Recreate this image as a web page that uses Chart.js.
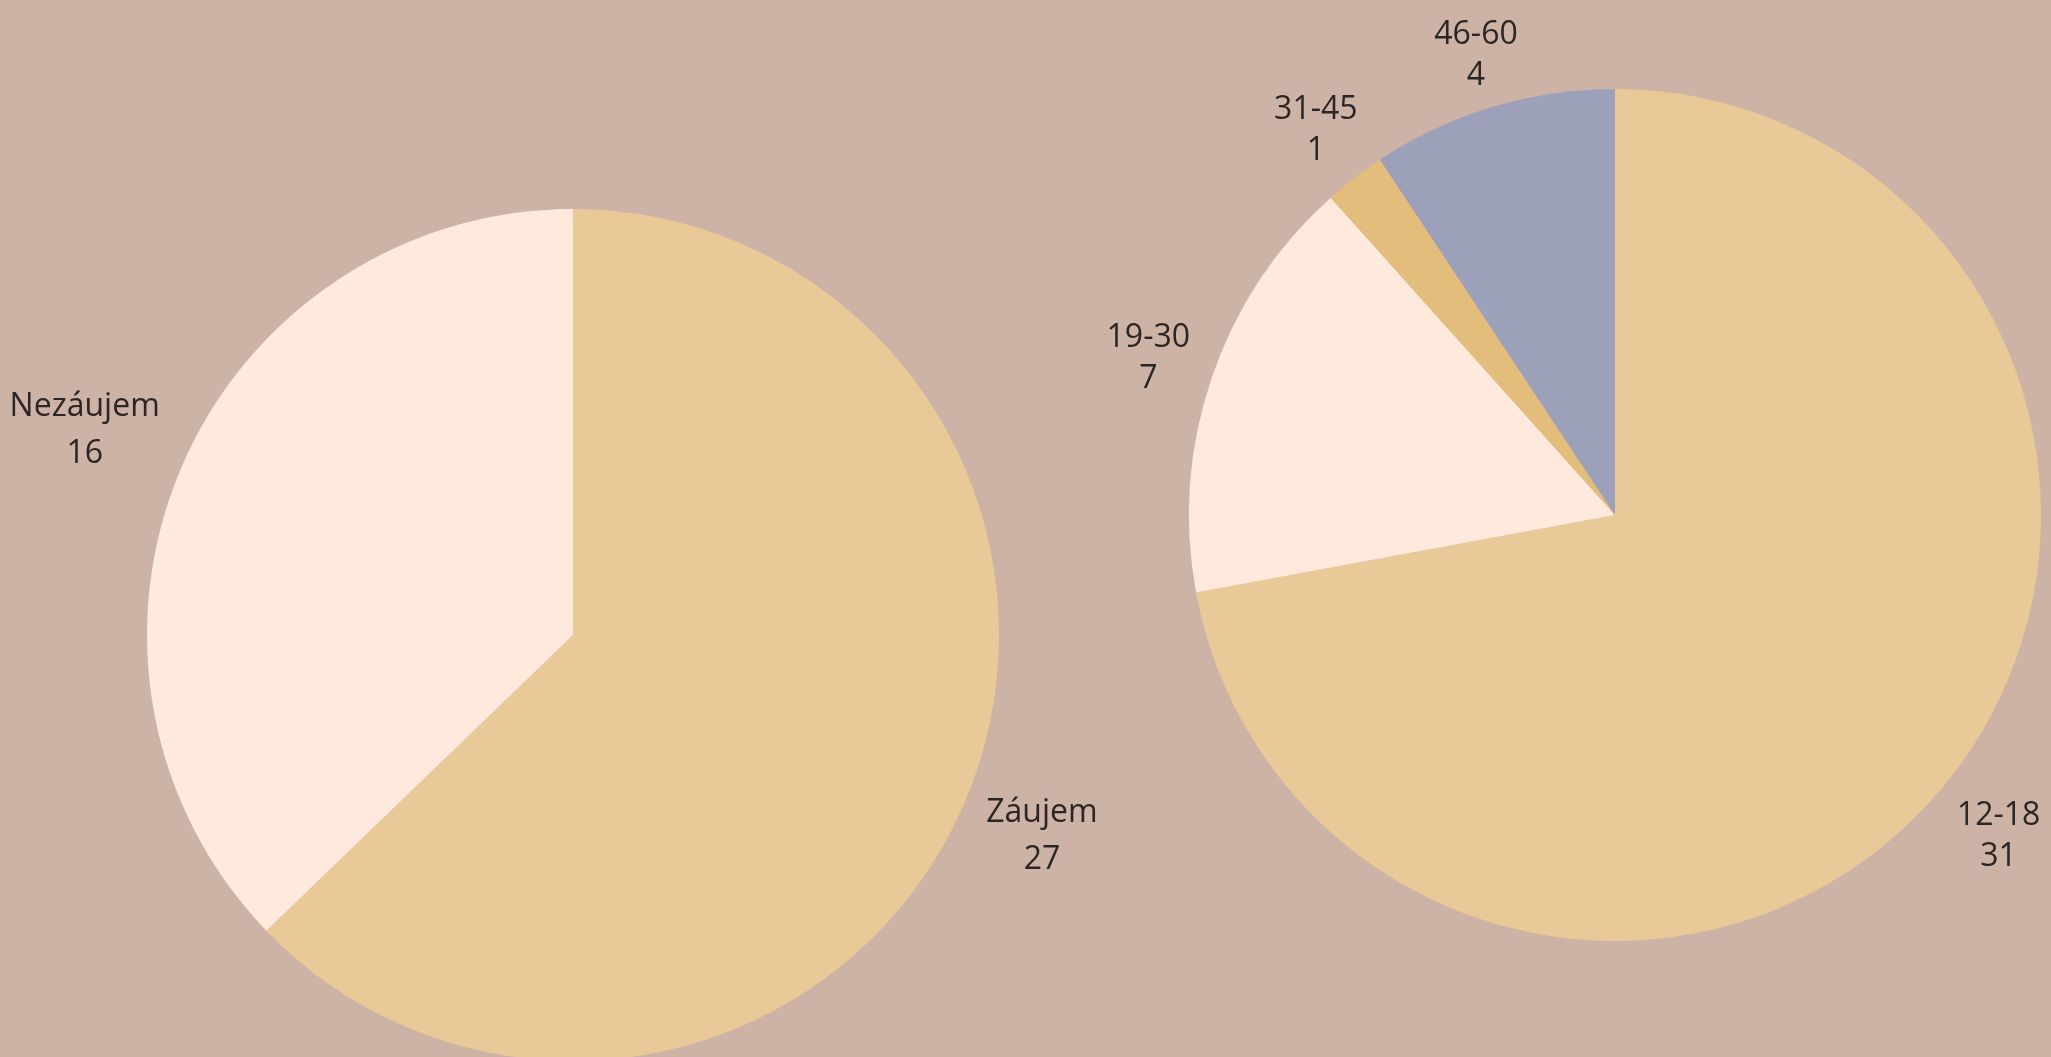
<!DOCTYPE html>
<html>
<head>
<meta charset="utf-8">
<script src="https://cdn.jsdelivr.net/npm/chart.js@4"></script>
<style>
    html, body { margin: 0; padding: 0; width: 2051px; height: 1057px; overflow: hidden; background: #CDB2A6; }
    .pie-box { position: absolute; }
    #interestBox { left: 0; top: 0; width: 1150px; height: 1100px; }
    #ageBox { left: 1050px; top: 0; width: 1001px; height: 1057px; }
</style>
</head>
<body>
<div id="interestBox" class="pie-box"><canvas id="interestChart"></canvas></div>
<div id="ageBox" class="pie-box"><canvas id="ageChart"></canvas></div>
<script>
// ===================================
// Data
// ===================================
const interestLabels = ['Záujem', 'Nezáujem'];
const interestValues = [27, 16];
const interestColors = ['#E9C997', '#FFE8DC'];

const ageLabels = ['12-18', '19-30', '31-45', '46-60'];
const ageValues = [31, 7, 1, 4];
const ageColors = ['#E9C997', '#FFE8DC', '#E2BD7C', '#9CA0B8'];

// Labels outside each slice: name on top, value below, pushed out along the mid angle
const outsideLabels = {
    id: 'outsideLabels',
    afterDatasetsDraw(chart, args, opts) {
        const ctx = chart.ctx;
        const meta = chart.getDatasetMeta(0);
        const values = chart.data.datasets[0].data;
        const lh = opts.lineHeight;
        const cap = opts.fontSize * 0.72;

        ctx.save();
        ctx.font = opts.fontSize + 'px "Open Sans"';
        ctx.fillStyle = opts.color;
        ctx.textAlign = 'center';
        ctx.textBaseline = 'alphabetic';

        meta.data.forEach((arc, i) => {
            const p = arc.getProps(['x', 'y', 'startAngle', 'endAngle', 'outerRadius'], true);
            const mid = (p.startAngle + p.endAngle) / 2;
            const vx = Math.cos(mid);
            const vy = Math.sin(mid);
            const lines = [chart.data.labels[i], String(values[i])];
            const hw = Math.max(...lines.map(t => ctx.measureText(t).width)) / 2;
            const hh = (lh + cap) / 2;
            const tx = Math.abs(vx) > 1e-6 ? hw / Math.abs(vx) : Infinity;
            const ty = Math.abs(vy) > 1e-6 ? hh / Math.abs(vy) : Infinity;
            const d = p.outerRadius + opts.gap + Math.min(tx, ty);
            const cx = p.x + vx * d;
            const top = p.y + vy * d - hh;
            ctx.fillText(lines[0], cx, top + cap);
            ctx.fillText(lines[1], cx, top + cap + lh);
        });
        ctx.restore();
    }
};

function makePie(canvasId, labels, values, colors, padding, lineHeight) {
    return new Chart(document.getElementById(canvasId), {
        type: 'pie',
        data: {
            labels: labels,
            datasets: [{
                data: values,
                backgroundColor: colors,
                borderWidth: 0
            }]
        },
        options: {
            responsive: true,
            maintainAspectRatio: false,
            animation: false,
            layout: { padding: padding },
            plugins: {
                legend: { display: false },
                tooltip: { enabled: false },
                outsideLabels: { fontSize: 32, lineHeight: lineHeight, gap: 23, color: '#2B2624' }
            }
        },
        plugins: [outsideLabels]
    });
}

makePie('interestChart', interestLabels, interestValues, interestColors,
    { left: 147, right: 151, top: 209, bottom: 39 }, 47);
makePie('ageChart', ageLabels, ageValues, ageColors,
    { left: 139, right: 10, top: 89, bottom: 116 }, 41);
</script>
</body>
</html>
